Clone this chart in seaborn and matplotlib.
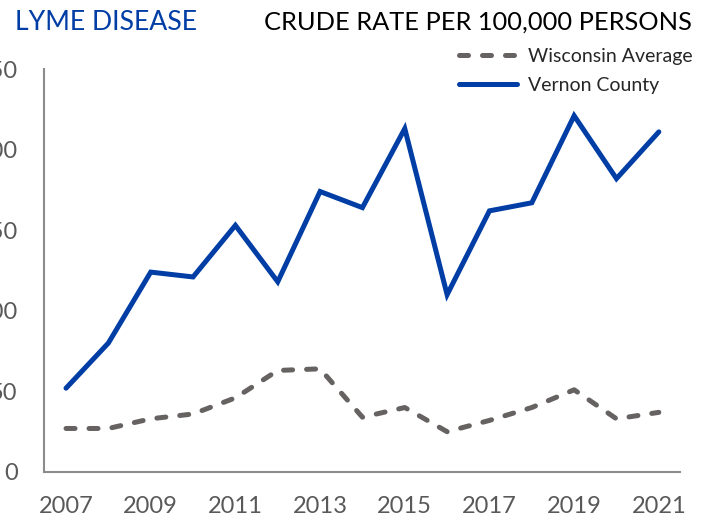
import matplotlib
matplotlib.use('Agg')
import pandas as pd
import matplotlib.pyplot as plt
import seaborn as sns

# %%
years = list(range(2007, 2022))
vernon = [52, 80, 124, 121, 153, 118, 174, 164, 213, 110, 162, 167, 221, 182, 211]
wisconsin = [27, 27, 33, 36, 46, 63, 64, 34, 40, 25, 32, 40, 51, 33, 37]
xticks = list(range(2007, 2022, 2))
yticks = [0, 50, 100, 150, 200, 250]

df = pd.DataFrame({'year': years, 'Vernon County': vernon, 'Wisconsin Average': wisconsin})

# %%
sns.set_style('white')
plt.rcParams['font.family'] = ['Lato', 'DejaVu Sans']

blue = '#003DA5'
gray = '#666262'

fig = plt.figure(figsize=(7.1, 5.18), dpi=100)
ax = fig.add_axes([44 / 710, 46 / 518, 636 / 710, 403 / 518])

sns.lineplot(data=df, x='year', y='Wisconsin Average', ax=ax, color=gray,
             linewidth=3.6, label='Wisconsin Average')
sns.lineplot(data=df, x='year', y='Vernon County', ax=ax, color=blue,
             linewidth=3.6, label='Vernon County')
wi_line = ax.lines[0]
wi_line.set_dashes((1.8, 2.8))
wi_line.set_dash_capstyle('round')
ax.lines[1].set_solid_capstyle('round')
ax.lines[1].set_solid_joinstyle('miter')

ax.set_xlim(2006.48, 2021.5)
ax.set_ylim(0, 250)
ax.set_xticks(xticks)
ax.set_yticks(yticks)
ax.set_xlabel('')
ax.set_ylabel('')
ax.tick_params(axis='both', length=0, labelsize=17, labelcolor='#595959')
ax.tick_params(axis='y', pad=19)
ax.tick_params(axis='x', pad=17)
for s in ['top', 'right']:
    ax.spines[s].set_visible(False)
for s in ['left', 'bottom']:
    ax.spines[s].set_color('#8c8c8c')
    ax.spines[s].set_linewidth(1.5)

leg = ax.legend(loc='upper right', bbox_to_anchor=(1.048, 1.095), frameon=False,
                fontsize=14, handlelength=2.95, handletextpad=0.6, labelspacing=0.6)
leg.get_lines()[0].set_dashes((1.8, 2.8))
leg.get_lines()[0].set_dash_capstyle('round')
leg.get_lines()[1].set_solid_capstyle('round')

fig.text(15 / 710, 1 - 22 / 518, 'LYME DISEASE', color=blue, fontsize=19.2, va='center', ha='left')
fig.text(692 / 710, 1 - 22 / 518, 'CRUDE RATE PER 100,000 PERSONS', color='black', fontsize=18.3,
         va='center', ha='right')

fig.savefig('out.png', dpi=100)
